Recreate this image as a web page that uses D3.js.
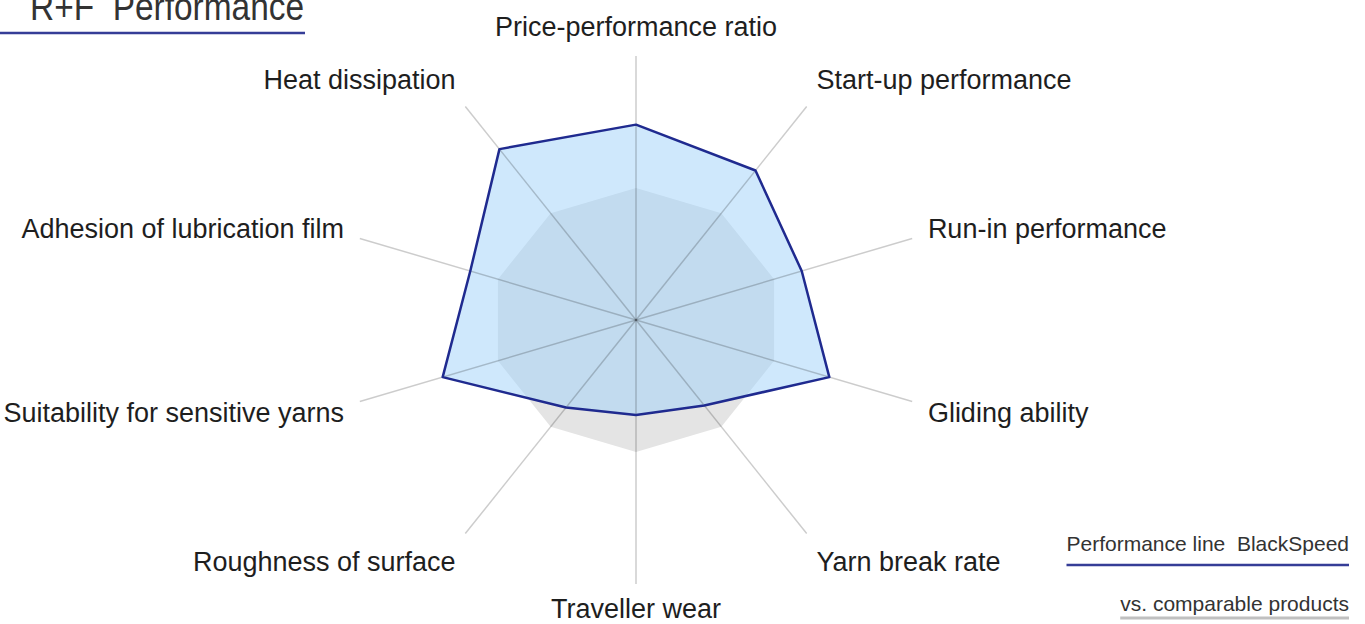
<!DOCTYPE html>
<html>
<head>
<meta charset="utf-8">
<script src="https://cdn.jsdelivr.net/npm/d3@7"></script>
<style>
  html, body { margin: 0; padding: 0; background: #fff; }
  svg { display: block; }
  text { font-family: "Liberation Sans", Arial, sans-serif; fill: #1e1e1e; }
</style>
</head>
<body>
<div id="radar"></div>
<script>
// axes, clockwise from the top
const axes = [
  "Price-performance ratio",
  "Start-up performance",
  "Run-in performance",
  "Gliding ability",
  "Yarn break rate",
  "Traveller wear",
  "Roughness of surface",
  "Suitability for sensitive yarns",
  "Adhesion of lubrication film",
  "Heat dissipation"
];

// scores on a 0-10 scale
const blackSpeed = [7.4, 7.0, 6.0, 7.0, 4.0, 3.6, 4.1, 7.0, 6.0, 8.0];
const comparable = [5.0, 5.0, 5.0, 5.0, 5.0, 5.0, 5.0, 5.0, 5.0, 5.0];

const seriesNames = ["Performance line  BlackSpeed", "vs. comparable products"];
const title = "R+F  Performance";

const width = 1365;
const height = 624;
const cx = 636, cy = 320;
const stretchX = 1.1;   // the picture is a bit wider than tall

const svg = d3.select("#radar").append("svg")
  .attr("width", width)
  .attr("height", height);

const rScale = d3.scaleLinear().domain([0, 10]).range([0, 264]);
const aScale = d3.scaleLinear().domain([0, axes.length]).range([0, 2 * Math.PI]);

function px(i, r) { return cx + stretchX * r * Math.sin(aScale(i)); }
function py(i, r) { return cy - r * Math.cos(aScale(i)); }

const line = d3.line()
  .x((d, i) => px(i, rScale(d)))
  .y((d, i) => py(i, rScale(d)))
  .curve(d3.curveLinearClosed);

// comparable products (grey)
svg.append("path")
  .attr("d", line(comparable))
  .attr("fill", "#e4e4e4")
  .attr("stroke", "none");

// BlackSpeed fill
svg.append("path")
  .attr("d", line(blackSpeed))
  .attr("fill", "#9fd1f9")
  .attr("fill-opacity", 0.5)
  .attr("stroke", "none");

// spokes
svg.append("g").attr("class", "spokes")
  .selectAll("line")
  .data(axes)
  .join("line")
  .attr("x1", cx).attr("y1", cy)
  .attr("x2", (d, i) => px(i, rScale(10)))
  .attr("y2", (d, i) => py(i, rScale(10)))
  .attr("stroke", "#000")
  .attr("stroke-opacity", 0.2)
  .attr("stroke-width", 1.5);

// BlackSpeed outline
svg.append("path")
  .attr("d", line(blackSpeed))
  .attr("fill", "none")
  .attr("stroke", "#1f2a8f")
  .attr("stroke-width", 2.5)
  .attr("stroke-linejoin", "round");

// axis labels
const labelRx = 279, labelRy = 298;
svg.append("g").attr("class", "labels")
  .selectAll("text")
  .data(axes)
  .join("text")
  .attr("x", (d, i) => cx + stretchX * labelRx * Math.sin(aScale(i)))
  .attr("y", (d, i) => cy - labelRy * Math.cos(aScale(i)))
  .attr("dy", (d, i) => {
    const c = Math.cos(aScale(i));
    return c > 0.9 ? "0.5em" : c < -0.9 ? "0em" : "0.36em";
  })
  .attr("text-anchor", (d, i) => {
    const s = Math.sin(aScale(i));
    return s > 0.1 ? "start" : s < -0.1 ? "end" : "middle";
  })
  .style("font-size", "27px")
  .text(d => d);

// title
svg.append("text")
  .attr("transform", "translate(30,20) scale(0.88,1)")
  .attr("xml:space", "preserve")
  .style("white-space", "pre")
  .style("font-size", "38px")
  .style("fill", "#333")
  .text(title);
svg.append("line")
  .attr("x1", 0).attr("x2", 305)
  .attr("y1", 33).attr("y2", 33)
  .attr("stroke", "#353d97")
  .attr("stroke-width", 2.5);

// legend
const legend = [
  { label: seriesNames[0], color: "#353d97", width: 2.5, y: 551, ly: 565 },
  { label: seriesNames[1], color: "#c0c0c0", width: 3, y: 611, ly: 618 }
];

legend.forEach(d => {
  const t = svg.append("text")
    .attr("x", 1349).attr("y", d.y)
    .attr("text-anchor", "end")
    .style("white-space", "pre")
    .style("font-size", "21px")
    .style("fill", "#333")
    .text(d.label);
  const w = t.node().getComputedTextLength();
  svg.append("line")
    .attr("x1", 1349 - w).attr("x2", 1349)
    .attr("y1", d.ly).attr("y2", d.ly)
    .attr("stroke", d.color)
    .attr("stroke-width", d.width);
});
</script>
</body>
</html>
